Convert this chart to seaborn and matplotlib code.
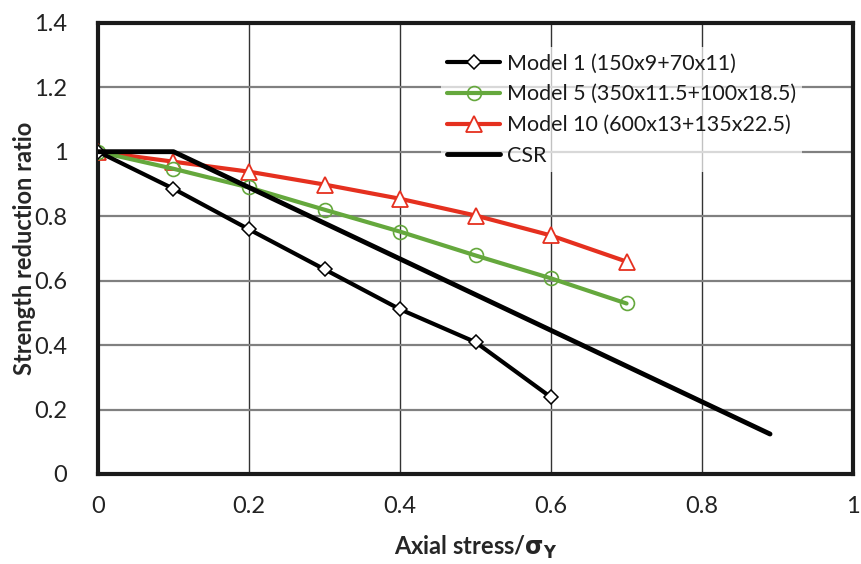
import matplotlib
matplotlib.use("Agg")
import matplotlib.pyplot as plt
import seaborn as sns
import pandas as pd

# Axial stress ratio and strength reduction ratio for each model
x_model = [0.0, 0.1, 0.2, 0.3, 0.4, 0.5, 0.6, 0.7]
model1 = [1.0, 0.885, 0.759, 0.635, 0.511, 0.409, 0.238]
model5 = [1.0, 0.947, 0.889, 0.820, 0.752, 0.678, 0.607, 0.529]
model10 = [1.0, 0.969, 0.938, 0.898, 0.854, 0.802, 0.740, 0.659]
csr_x = [0.0, 0.1, 0.89]
csr_y = [1.0, 1.0, 0.124]

labels = ["Model 1 (150x9+70x11)", "Model 5 (350x11.5+100x18.5)",
          "Model 10 (600x13+135x22.5)", "CSR"]
x_ticks = [0, 0.2, 0.4, 0.6, 0.8, 1]
y_ticks = [0, 0.2, 0.4, 0.6, 0.8, 1, 1.2, 1.4]
x_ticklabels = ["0", "0.2", "0.4", "0.6", "0.8", "1"]
y_ticklabels = ["0", "0.2", "0.4", "0.6", "0.8", "1", "1.2", "1.4"]

sns.set_style("white")
plt.rcParams["font.family"] = ["Lato", "DejaVu Sans"]

fig = plt.figure(figsize=(8.61, 5.64), dpi=100)
ax = fig.add_axes([0.1138, 0.1596, 0.877, 0.800])

df1 = pd.DataFrame({"x": x_model[:len(model1)], "y": model1})
df5 = pd.DataFrame({"x": x_model, "y": model5})
df10 = pd.DataFrame({"x": x_model, "y": model10})
dfc = pd.DataFrame({"x": csr_x, "y": csr_y})

sns.lineplot(data=df1, x="x", y="y", ax=ax, color="#000000", lw=3,
             marker="D", markersize=7, markerfacecolor="white",
             markeredgecolor="#000000", markeredgewidth=1.1,
             label=labels[0], zorder=5)
sns.lineplot(data=df5, x="x", y="y", ax=ax, color="#65a83d", lw=3,
             marker="o", markersize=10, markerfacecolor="none",
             markeredgecolor="#65a83d", markeredgewidth=1.2,
             label=labels[1], zorder=4)
sns.lineplot(data=df10, x="x", y="y", ax=ax, color="#e5301f", lw=3,
             marker="^", markersize=11, markerfacecolor="white",
             markeredgecolor="#e5301f", markeredgewidth=1.3,
             label=labels[2], zorder=3)
sns.lineplot(data=dfc, x="x", y="y", ax=ax, color="#000000", lw=3.5,
             label=labels[3], zorder=6)

ax.set_xlim(0, 1)
ax.set_ylim(0, 1.4)
ax.set_xticks(x_ticks)
ax.set_xticklabels(x_ticklabels)
ax.set_yticks(y_ticks)
ax.set_yticklabels(y_ticklabels)
ax.tick_params(axis="both", labelsize=17, colors="#222222", length=0)
ax.tick_params(axis="x", pad=16)
ax.tick_params(axis="y", pad=22)

ax.xaxis.grid(True, color="#333333", lw=1.0)
ax.yaxis.grid(True, color="#808080", lw=1.6)
ax.set_axisbelow(True)

for sp in ax.spines.values():
    sp.set_visible(True)
    sp.set_color("#1a1a1a")
    sp.set_linewidth(3)

ax.set_xlabel(r"Axial stress/$\mathbf{\sigma_Y}$", fontsize=17,
              fontweight="bold", va="center")
ax.set_ylabel("Strength reduction ratio", fontsize=17, fontweight="bold",
              va="center")
ax.xaxis.set_label_coords(0.5, -0.162)
ax.yaxis.set_label_coords(-0.097, 0.5)

leg = ax.legend(loc="upper left", bbox_to_anchor=(0.44, 0.97), frameon=True,
                fontsize=15.5, handlelength=2.45, handletextpad=0.3,
                labelspacing=0.5, borderpad=0.3)
leg.get_frame().set_facecolor("white")
leg.get_frame().set_alpha(0.7)
leg.get_frame().set_edgecolor("none")
for t in leg.get_texts():
    t.set_color("#1a1a1a")

fig.savefig("out.png", dpi=100)
